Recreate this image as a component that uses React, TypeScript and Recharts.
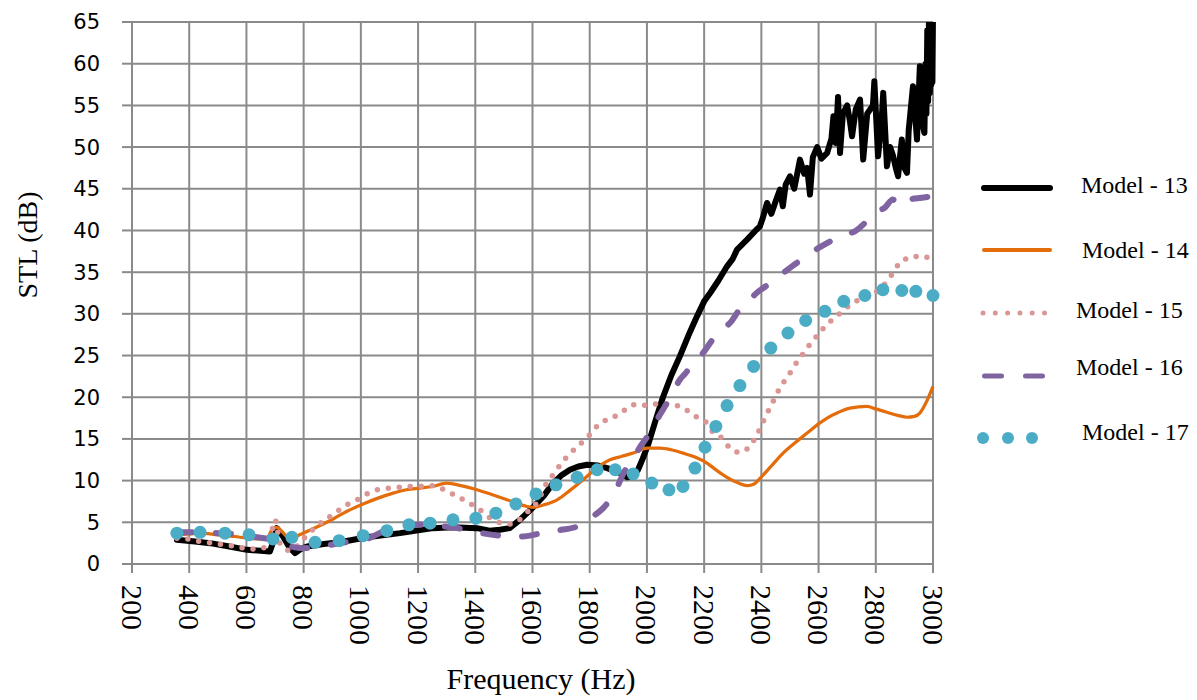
import { LineChart, Line, XAxis, YAxis, CartesianGrid, Legend, Label } from "recharts";

const freqTicks = [200, 400, 600, 800, 1000, 1200, 1400, 1600, 1800, 2000, 2200, 2400, 2600, 2800, 3000];
const stlTicks = [0, 5, 10, 15, 20, 25, 30, 35, 40, 45, 50, 55, 60, 65];

// [frequency Hz, STL dB]
const model13: [number, number][] = [
  [357, 2.9], [420, 2.7], [473, 2.5], [540, 2.1], [602, 1.7], [650, 1.6], [682, 1.5], [695, 2.8],
  [706, 4.3], [728, 3.3], [750, 2.0], [770, 1.3], [790, 1.8], [812, 2.1], [870, 2.4], [927, 2.6],
  [1021, 3.2], [1137, 3.7], [1252, 4.3], [1322, 4.4], [1406, 4.3], [1450, 4.0], [1486, 4.1], [1520, 4.3],
  [1556, 5.3], [1602, 6.8], [1640, 8.2], [1672, 9.7], [1700, 10.6], [1731, 11.3], [1760, 11.7], [1791, 11.9],
  [1830, 11.8], [1861, 11.5], [1900, 11.0], [1930, 10.4], [1950, 10.6], [1969, 11.3], [1985, 12.6], [2004, 14.3],
  [2030, 17.2], [2056, 20.0], [2085, 22.6], [2115, 24.9], [2145, 27.4], [2175, 29.7], [2200, 31.5], [2221, 32.5],
  [2250, 34.0], [2280, 35.7], [2300, 36.6], [2315, 37.7], [2350, 38.9], [2380, 40.0], [2395, 40.5], [2405, 41.5],
  [2420, 43.3], [2435, 42.0], [2450, 43.5], [2465, 44.9], [2475, 42.9], [2485, 45.5], [2500, 46.5], [2515, 45.0],
  [2535, 48.5], [2550, 46.8], [2560, 47.5], [2570, 44.3], [2580, 48.8], [2595, 50.0], [2610, 48.6], [2630, 49.3],
  [2645, 51.0], [2652, 53.7], [2660, 50.5], [2668, 56.0], [2675, 49.3], [2685, 54.0], [2700, 55.0], [2710, 53.0],
  [2717, 51.3], [2730, 54.5], [2745, 55.7], [2756, 48.5], [2770, 54.0], [2790, 55.0], [2795, 57.9], [2808, 48.9],
  [2820, 53.0], [2826, 56.5], [2839, 47.7], [2850, 50.0], [2860, 49.0], [2870, 47.5], [2878, 46.5], [2885, 49.0],
  [2891, 50.9], [2900, 47.5], [2909, 46.9], [2915, 52.0], [2930, 57.3], [2944, 50.9], [2954, 59.7], [2962, 53.0],
  [2970, 51.7], [2974, 60.0], [2977, 54.0], [2980, 64.0], [2983, 55.5], [2986, 66.0], [2989, 56.5], [2992, 66.0],
  [2994, 57.5], [2996, 66.0], [2998, 57.8], [3000, 66.0],
];

const model14: [number, number][] = [
  [357, 3.5], [400, 3.6], [438, 3.7], [500, 3.5], [560, 3.3], [602, 3.1], [650, 3.0], [672, 3.1],
  [693, 4.3], [708, 4.4], [724, 3.9], [752, 3.1], [798, 3.7], [850, 4.5], [903, 5.4], [950, 6.3],
  [1008, 7.2], [1060, 7.9], [1113, 8.5], [1160, 8.9], [1207, 9.1], [1250, 9.3], [1301, 9.7], [1350, 9.4],
  [1406, 8.9], [1460, 8.3], [1511, 7.7], [1560, 7.1], [1581, 6.9], [1602, 6.8], [1640, 7.1], [1686, 7.7],
  [1730, 8.8], [1777, 10.1], [1820, 11.4], [1871, 12.5], [1910, 12.9], [1952, 13.3], [2000, 13.9], [2046, 13.9],
  [2085, 13.7], [2126, 13.3], [2170, 12.8], [2210, 12.1], [2245, 11.2], [2280, 10.4], [2320, 9.7], [2350, 9.4],
  [2375, 9.6], [2396, 10.3], [2436, 11.8], [2476, 13.3], [2520, 14.6], [2560, 15.7], [2600, 16.8], [2630, 17.5],
  [2670, 18.2], [2710, 18.7], [2769, 18.9], [2800, 18.6], [2839, 18.2], [2880, 17.8], [2909, 17.6], [2935, 17.7],
  [2954, 18.1], [2975, 19.3], [3000, 21.3],
];

const model15: [number, number][] = [
  [357, 3.1], [396, 3.0], [438, 2.7], [483, 2.5], [525, 2.3], [567, 2.1], [606, 1.8], [654, 1.9],
  [680, 2.5], [700, 5.3], [717, 2.5], [752, 1.6], [805, 3.2], [840, 4.4], [875, 5.3], [910, 6.1],
  [945, 7.0], [983, 7.6], [1021, 8.4], [1058, 8.9], [1097, 9.1], [1132, 9.2], [1167, 9.3], [1202, 9.3],
  [1242, 9.4], [1272, 9.2], [1309, 8.6], [1343, 8.0], [1378, 7.3], [1413, 6.6], [1448, 5.6], [1483, 5.0],
  [1518, 4.8], [1550, 5.2], [1581, 6.2], [1616, 7.4], [1651, 9.8], [1679, 11.0], [1703, 12.2], [1731, 13.2],
  [1756, 14.1], [1784, 14.9], [1808, 15.8], [1833, 16.8], [1861, 17.3], [1880, 17.5], [1899, 18.0], [1924, 18.5],
  [1952, 19.1], [1975, 19.0], [2003, 19.1], [2025, 19.2], [2052, 19.2], [2091, 19.1], [2122, 18.8], [2154, 18.1],
  [2179, 17.5], [2210, 16.9], [2231, 15.8], [2262, 15.1], [2290, 13.9], [2322, 13.4], [2354, 13.9], [2378, 15.1],
  [2399, 16.5], [2416, 17.8], [2437, 19.2], [2455, 20.5], [2476, 21.7], [2500, 22.9], [2524, 24.2], [2548, 25.3],
  [2573, 26.5], [2601, 27.6], [2630, 28.8], [2657, 29.5], [2685, 30.4], [2720, 31.3], [2755, 31.9], [2790, 32.4],
  [2815, 33.0], [2839, 33.9], [2860, 34.9], [2881, 36.0], [2912, 36.7], [2933, 36.9], [2968, 36.7], [3000, 37.2],
];

const model16: [number, number][] = [
  [357, 3.8], [438, 3.8], [500, 3.7], [554, 3.6], [637, 3.2], [693, 2.9], [735, 2.3], [798, 1.9],
  [860, 2.1], [927, 2.5], [1021, 3.0], [1091, 4.1], [1150, 4.5], [1207, 4.7], [1260, 4.6], [1322, 4.4],
  [1406, 3.8], [1486, 3.4], [1521, 3.3], [1560, 3.3], [1616, 3.6], [1637, 3.8], [1700, 4.1], [1756, 4.5],
  [1784, 5.0], [1815, 5.8], [1847, 6.7], [1882, 8.3], [1930, 11.6], [1952, 12.5], [1975, 14.0], [2000, 15.2],
  [2021, 16.5], [2056, 18.5], [2087, 20.3], [2115, 22.1], [2133, 22.8], [2165, 24.2], [2196, 25.3], [2225, 26.7],
  [2249, 27.7], [2290, 28.9], [2336, 31.0], [2350, 31.3], [2380, 32.4], [2423, 33.5], [2465, 34.6], [2507, 35.7],
  [2545, 36.6], [2581, 37.5], [2620, 38.3], [2664, 39.1], [2700, 39.6], [2727, 39.9], [2765, 41.0], [2804, 42.3],
  [2830, 42.7], [2860, 43.7], [2880, 43.0], [2909, 43.1], [2930, 43.8], [2954, 43.9], [3000, 44.1],
];

// marker centres
const model17: [number, number][] = [
  [357, 3.7], [438, 3.8], [525, 3.7], [609, 3.5], [693, 3.0], [759, 3.2], [840, 2.6], [924, 2.8],
  [1008, 3.4], [1091, 4.0], [1168, 4.7], [1242, 4.9], [1322, 5.3], [1402, 5.5], [1472, 6.1], [1542, 7.2],
  [1612, 8.4], [1682, 9.5], [1756, 10.4], [1826, 11.3], [1889, 11.3], [1952, 10.8], [2017, 9.7], [2077, 8.9],
  [2126, 9.3], [2168, 11.5], [2203, 14.0], [2241, 16.5], [2280, 19.0], [2325, 21.4], [2373, 23.7], [2433, 25.9],
  [2493, 27.7], [2555, 29.2], [2622, 30.3], [2688, 31.5], [2762, 32.2], [2825, 32.9], [2891, 32.8], [2940, 32.7],
  [3000, 32.2],
];

const toRows = (pts: [number, number][]) => pts.map(([f, v]) => ({ f, v }));

const SERIF = "'Liberation Serif', 'Times New Roman', serif";
const GRID = "#8a8a8a";

function FreqTick(props: any) {
  const { x, y, payload } = props;
  return (
    <text
      transform={`translate(${x},${y + 10}) rotate(90)`}
      dy="0.35em"
      textAnchor="start"
      fontFamily={SERIF}
      fontSize={30}
      fill="#000"
    >
      {payload.value}
    </text>
  );
}

function LegendBox() {
  const txt = { fontFamily: SERIF, fontSize: 24, fill: "#000" };
  return (
    <svg width={220} height={300}>
      <line x1={12} x2={78} y1={28} y2={28} stroke="#000" strokeWidth={6} strokeLinecap="round" />
      <text x={109} y={33} {...txt}>Model - 13</text>
      <line x1={12} x2={78} y1={90} y2={90} stroke="#E46C0A" strokeWidth={4} strokeLinecap="round" />
      <text x={110} y={98} {...txt}>Model - 14</text>
      <line x1={11} x2={74} y1={153} y2={153} stroke="#DA9694" strokeWidth={5} strokeDasharray="0 12.3" strokeLinecap="round" />
      <text x={104} y={158} {...txt}>Model - 15</text>
      <line x1={12.5} x2={71} y1={216} y2={216} stroke="#8064A2" strokeWidth={5} strokeDasharray="17 24" strokeLinecap="round" />
      <text x={104} y={215} {...txt}>Model - 16</text>
      <circle cx={11} cy={278} r={6} fill="#4BACC6" />
      <circle cx={36} cy={278} r={6} fill="#4BACC6" />
      <circle cx={60} cy={278} r={6} fill="#4BACC6" />
      <text x={110} y={280} {...txt}>Model - 17</text>
    </svg>
  );
}

export default function App() {
  return (
    <LineChart width={1181} height={690} margin={{ top: 14, right: 256, bottom: 0, left: 0 }}>
      <CartesianGrid stroke={GRID} strokeWidth={2} />
      <XAxis
        type="number"
        dataKey="f"
        domain={[200, 3000]}
        ticks={freqTicks}
        interval={0}
        height={134}
        tickSize={9}
        axisLine={{ stroke: GRID, strokeWidth: 2 }}
        tickLine={{ stroke: GRID, strokeWidth: 2 }}
        tick={(p: any) => <FreqTick {...p} />}
      >
        <Label
          content={() => (
            <text x={533} y={681} textAnchor="middle" fontFamily={SERIF} fontSize={30} fill="#000">
              Frequency (Hz)
            </text>
          )}
        />
      </XAxis>
      <YAxis
        type="number"
        domain={[0, 65]}
        ticks={stlTicks}
        interval={0}
        allowDataOverflow
        width={124}
        tickSize={10}
        tickMargin={22}
        axisLine={{ stroke: GRID, strokeWidth: 2 }}
        tickLine={{ stroke: GRID, strokeWidth: 2 }}
        tick={{ fill: "#000", fontSize: 21, fontFamily: "'DejaVu Sans', sans-serif" }}
      >
        <Label
          content={() => (
            <text
              transform="translate(19,237) rotate(-90)"
              dy="0.35em"
              textAnchor="middle"
              fontFamily={SERIF}
              fontSize={28}
              fill="#000"
            >
              STL (dB)
            </text>
          )}
        />
      </YAxis>
      <Legend
        layout="vertical"
        align="center"
        verticalAlign="middle"
        wrapperStyle={{ position: "absolute", left: 964, top: 152, width: 220, height: 300 }}
        content={() => <LegendBox />}
      />
      <Line
        name="Model - 13"
        data={toRows(model13)}
        dataKey="v"
        type="linear"
        stroke="#000000"
        strokeWidth={6}
        strokeLinejoin="round"
        strokeLinecap="round"
        dot={false}
        activeDot={false}
        isAnimationActive={false}
      />
      <Line
        name="Model - 14"
        data={toRows(model14)}
        dataKey="v"
        type="monotone"
        stroke="#E46C0A"
        strokeWidth={3.2}
        dot={false}
        activeDot={false}
        isAnimationActive={false}
      />
      <Line
        name="Model - 15"
        data={toRows(model15)}
        dataKey="v"
        type="monotone"
        stroke="#DA9694"
        strokeWidth={5.5}
        strokeDasharray="0 11"
        strokeLinecap="round"
        dot={false}
        activeDot={false}
        isAnimationActive={false}
      />
      <Line
        name="Model - 16"
        data={toRows(model16)}
        dataKey="v"
        type="monotone"
        stroke="#8064A2"
        strokeWidth={6}
        strokeDasharray="15 24"
        strokeLinecap="round"
        dot={false}
        activeDot={false}
        isAnimationActive={false}
      />
      <Line
        name="Model - 17"
        data={toRows(model17)}
        dataKey="v"
        type="linear"
        stroke="none"
        dot={{ r: 6.5, fill: "#4BACC6", stroke: "none" }}
        activeDot={false}
        isAnimationActive={false}
      />
    </LineChart>
  );
}
